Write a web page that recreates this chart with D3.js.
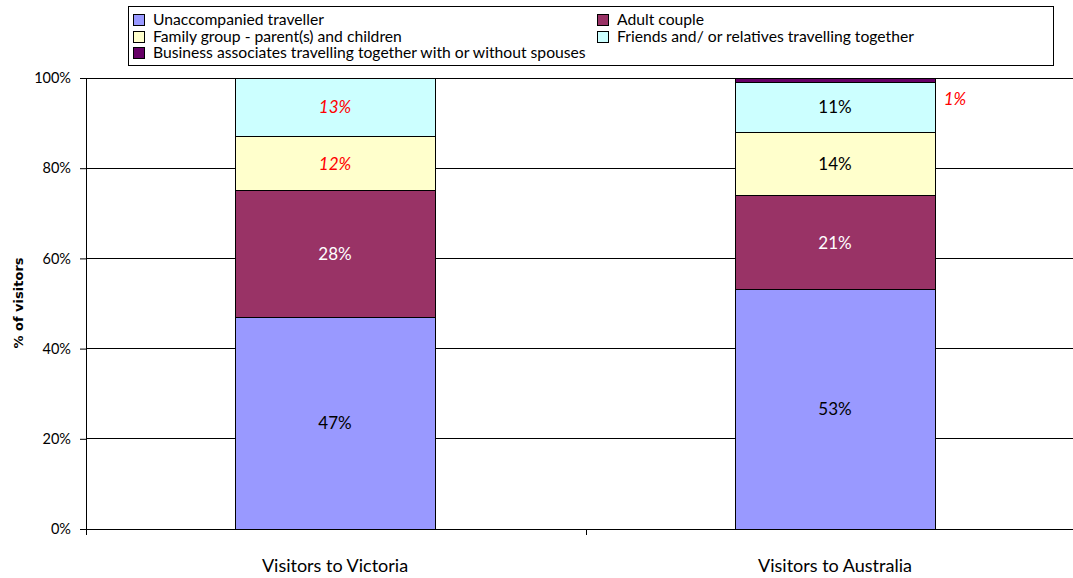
<!DOCTYPE html>
<html><head><meta charset="utf-8">
<script src="https://cdn.jsdelivr.net/npm/d3@7"></script>
<style>body{margin:0;background:#fff}svg{display:block}</style>
</head><body><svg id="c" width="1073" height="578"></svg>
<script>
const categories = ["Visitors to Victoria", "Visitors to Australia"];
const seriesNames = ["Unaccompanied traveller", "Adult couple", "Family group - parent(s) and children", "Friends and/ or relatives travelling together", "Business associates travelling together with or without spouses"];
const seriesColors = ["#9999FF", "#993366", "#FFFFCC", "#CCFFFF", "#660066"];
const unaccompanied = [47, 53];
const adultCouple = [28, 21];
const familyGroup = [12, 14];
const friendsRelatives = [13, 11];
const business = [0, 1];
const yTicks = [0, 20, 40, 60, 80, 100];

const FONT = "'Gill Sans','Gill Sans MT',Lato,'DejaVu Sans',sans-serif";
const svg = d3.select("#c");
const m = {l: 86, t: 78, b: 529, r: 1086};
const x = d3.scaleBand().domain(categories).range([m.l, m.r]).paddingInner(0).paddingOuter(0);
const y = d3.scaleLinear().domain([0, 100]).range([m.b, m.t]);
const barW = 200;
const barX = c => x(c) + (x.bandwidth() - barW) / 2 - 1;

// gridlines
svg.append("g").selectAll("line").data(yTicks.slice(1)).join("line")
  .attr("x1", m.l).attr("x2", m.r).attr("y1", d => y(d)).attr("y2", d => y(d))
  .attr("stroke", "#000").attr("stroke-width", 1).attr("shape-rendering", "crispEdges");

const data = [unaccompanied, adultCouple, familyGroup, friendsRelatives, business];
const rows = categories.map((c, i) => {
  const o = {cat: c};
  seriesNames.forEach((s, j) => o[s] = data[j][i]);
  return o;
});
const stack = d3.stack().keys(seriesNames)(rows);

const g = svg.append("g");
stack.forEach((layer, j) => {
  g.selectAll(null).data(layer).join("rect")
    .attr("x", d => barX(d.data.cat))
    .attr("width", barW)
    .attr("y", d => y(d[1]))
    .attr("height", d => Math.max(0, y(d[0]) - y(d[1])))
    .attr("fill", seriesColors[j])
    .attr("stroke", d => d[1] - d[0] > 0 ? "#000" : "none")
    .attr("stroke-width", 1).attr("shape-rendering", "crispEdges");
});

// labels
const labelStyle = [
  [{c: "#000", i: false}, {c: "#000", i: false}],
  [{c: "#fff", i: false}, {c: "#fff", i: false}],
  [{c: "#FF0000", i: true}, {c: "#000", i: false}],
  [{c: "#FF0000", i: true}, {c: "#000", i: false}],
  [null, {c: "#FF0000", i: true, out: true}]
];
stack.forEach((layer, j) => {
  layer.forEach((d, i) => {
    const st = labelStyle[j][i];
    if (!st) return;
    const cx = barX(d.data.cat) + barW / 2;
    let tx = cx, ty = y((d[0] + d[1]) / 2);
    if (st.out) { tx = cx + barW / 2 + 20; ty = y(d[1]) + 21; }
    svg.append("text").attr("x", tx).attr("y", ty).attr("dy", "0.35em")
      .attr("text-anchor", "middle").attr("font-family", FONT).attr("font-size", 17)
      .attr("font-style", st.i ? "italic" : "normal").attr("fill", st.c)
      .text((d[1] - d[0]) + "%");
  });
});

// y axis
const ya = svg.append("g").attr("transform", `translate(${m.l},0)`)
  .call(d3.axisLeft(y).tickValues(yTicks).tickFormat(d => d + "%").tickSize(6).tickPadding(9));
ya.select(".domain").attr("stroke", "#000");
ya.selectAll("text").attr("font-family", FONT).attr("font-size", 14.5).attr("fill", "#000");

// x axis
svg.append("line").attr("x1", m.l).attr("x2", m.r).attr("y1", m.b).attr("y2", m.b).attr("stroke", "#000").attr("shape-rendering", "crispEdges");
svg.append("g").selectAll("line").data([m.l, m.l + x.bandwidth()]).join("line")
  .attr("x1", d => d).attr("x2", d => d).attr("y1", m.b).attr("y2", m.b + 6).attr("stroke", "#000").attr("shape-rendering", "crispEdges");
svg.append("g").selectAll("text").data(categories).join("text")
  .attr("x", d => x(d) + x.bandwidth() / 2 - 1).attr("y", 572)
  .attr("text-anchor", "middle").attr("font-family", FONT).attr("font-size", 18).attr("fill", "#000").text(d => d);

// y title
svg.append("text").attr("transform", "translate(23,303) rotate(-90)")
  .attr("text-anchor", "middle").attr("font-family", "'DejaVu Sans',Lato,sans-serif").attr("font-weight", "bold").attr("font-size", 13)
  .text("% of visitors");

// legend
svg.append("rect").attr("x", 128.5).attr("y", 6.5).attr("width", 925).attr("height", 59)
  .attr("fill", "#fff").attr("stroke", "#000").attr("stroke-width", 1);
const legPos = [[133, 20], [597, 20], [133, 37], [597, 37], [133, 53]];
seriesNames.forEach((s, j) => {
  const [lx, ly] = legPos[j];
  svg.append("rect").attr("x", lx + 0.5).attr("y", ly - 5.5).attr("width", 11).attr("height", 11)
    .attr("fill", seriesColors[j]).attr("stroke", "#000").attr("stroke-width", 1);
  svg.append("text").attr("x", lx + 20).attr("y", ly).attr("dy", "0.35em")
    .attr("font-family", FONT).attr("font-size", 15.7).attr("fill", "#000").text(s);
});
</script></body></html>
